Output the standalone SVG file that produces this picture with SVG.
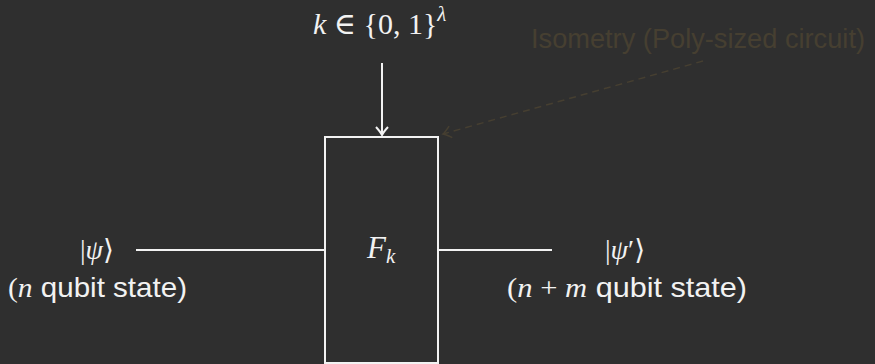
<svg xmlns="http://www.w3.org/2000/svg" width="875" height="364" viewBox="0 0 875 364">
  <style>
    .bg { fill: #2f2f2f; }
    .wire { stroke: #f2f2f2; stroke-width: 2; fill: none; }
    .math { font-family: "Liberation Serif", "DejaVu Serif", serif; fill: #f2f2f2; }
    .it { font-style: italic; }
    .sans { font-family: "Liberation Sans", "DejaVu Sans", sans-serif; fill: #f2f2f2; }
    .note { font-family: "Liberation Sans", "DejaVu Sans", sans-serif; fill: #463f31; }
    .dash { stroke: #463f31; stroke-width: 1.5; stroke-dasharray: 7 5; fill: none; }
  </style>
  <defs>
    <marker id="arrowW" markerUnits="userSpaceOnUse" markerWidth="20" markerHeight="20" viewBox="-10 -10 20 20" refX="0" refY="0" orient="auto">
      <path d="M-8,-6 Q-3,-1.5 0,0 Q-3,1.5 -8,6" stroke="#f2f2f2" stroke-width="2" fill="none"/>
    </marker>
    <marker id="arrowN" markerUnits="userSpaceOnUse" markerWidth="20" markerHeight="20" viewBox="-10 -10 20 20" refX="0" refY="0" orient="auto">
      <path d="M-8,-6 Q-3,-1.5 0,0 Q-3,1.5 -8,6" stroke="#463f31" stroke-width="1.5" fill="none"/>
    </marker>
  </defs>
  <rect class="bg" x="0" y="0" width="875" height="364"/>

  <g id="connectors">
    <line class="wire" x1="382" y1="63" x2="382" y2="135" marker-end="url(#arrowW)"/>
    <line class="wire" x1="136" y1="250" x2="325" y2="250"/>
    <line class="wire" x1="438" y1="250" x2="552" y2="250"/>
    <line class="dash" x1="703" y1="61" x2="443" y2="134" marker-end="url(#arrowN)"/>
  </g>

  <g id="key">
    <text class="math" x="313" y="34" font-size="30"><tspan class="it">k</tspan> ∈ {0, 1}<tspan font-size="21" dy="-13" class="it">λ</tspan></text>
  </g>

  <g id="note">
    <text class="note" x="531" y="48" font-size="27" textLength="334" lengthAdjust="spacingAndGlyphs">Isometry (Poly-sized circuit)</text>
  </g>

  <g id="box">
    <rect class="wire" x="325" y="137" width="113" height="226"/>
    <text class="math" x="367" y="258" font-size="31"><tspan class="it">F</tspan><tspan class="it" font-size="21" dy="5">k</tspan></text>
  </g>

  <g id="input">
    <text class="math" x="80" y="259" font-size="28">|<tspan class="it">ψ</tspan>⟩</text>
    <text x="8" y="297" font-size="28" textLength="179" lengthAdjust="spacingAndGlyphs"><tspan class="math">(</tspan><tspan class="math it">n</tspan><tspan class="sans"> qubit state)</tspan></text>
  </g>

  <g id="output">
    <text class="math" x="605" y="259" font-size="28">|<tspan class="it">ψ</tspan>′⟩</text>
    <text x="507" y="297" font-size="28" textLength="240" lengthAdjust="spacingAndGlyphs"><tspan class="math">(</tspan><tspan class="math it">n</tspan><tspan class="math"> + </tspan><tspan class="math it">m</tspan><tspan class="sans"> qubit state)</tspan></text>
  </g>
</svg>
